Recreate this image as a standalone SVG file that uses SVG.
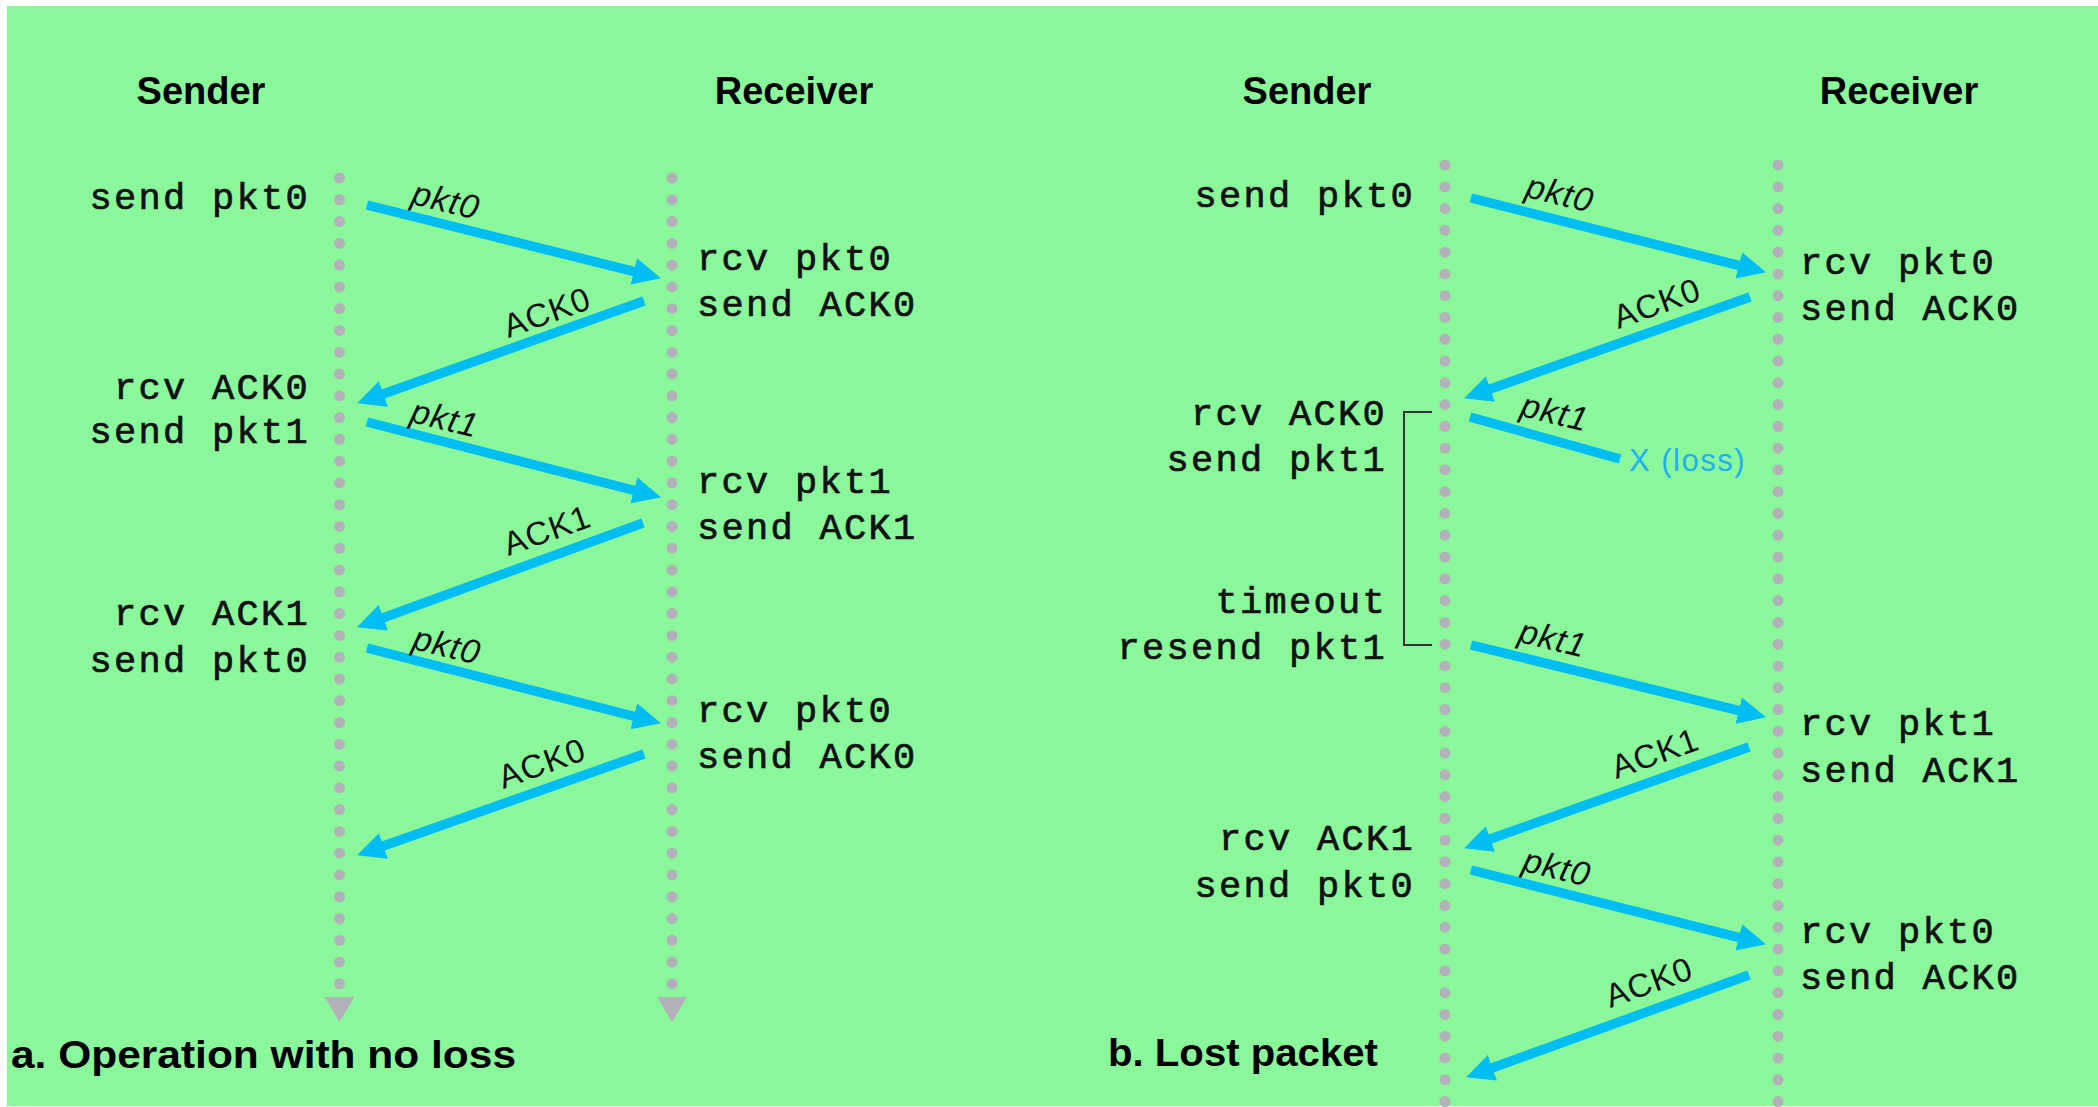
<svg xmlns="http://www.w3.org/2000/svg" width="2098" height="1107" viewBox="0 0 2098 1107">
  <style>
    .head { font-family: "Liberation Sans", Arial, sans-serif; font-weight: bold; font-size: 38px; fill: #000; text-anchor: middle; }
    .foot { font-family: "Liberation Sans", Arial, sans-serif; font-weight: bold; font-size: 39px; fill: #000; }
    .ev { font-family: "Liberation Mono", "Courier New", monospace; font-size: 37px; letter-spacing: 2.3px; fill: #111; stroke: #111; stroke-width: 0.7px; }
    .snd { text-anchor: end; }
    .lifeline { stroke: #b2b1b9; stroke-width: 11; stroke-linecap: round; stroke-dasharray: 0 21.78; fill: none; }
    .msg { stroke: #00bdf2; stroke-width: 9.5; fill: none; }
    .pkt { font-family: "Liberation Sans", Arial, sans-serif; font-style: italic; font-size: 34px; letter-spacing: 1px; fill: #111; text-anchor: middle; dominant-baseline: central; }
    .ack { font-family: "Liberation Sans", Arial, sans-serif; font-size: 33px; letter-spacing: 1px; fill: #111; text-anchor: middle; dominant-baseline: central; }
    .loss { font-family: "Liberation Sans", Arial, sans-serif; font-size: 31px; letter-spacing: 1.5px; fill: #1fb0ee; }
  </style>
  <defs>
    <marker id="head" viewBox="0 -14 28 28" markerUnits="userSpaceOnUse" markerWidth="28" markerHeight="28" refX="13" refY="0" orient="auto">
      <path d="M0,-13.5 L28,0 L0,13.5 z" fill="#00bdf2"/>
    </marker>
  </defs>

  <!-- page -->
  <rect x="0" y="0" width="2098" height="1107" fill="#ffffff"/>
  <rect x="7" y="6" width="2091" height="1100" fill="#8af79b"/>

  <!-- lifelines -->
  <g id="lifelines">
    <line class="lifeline" x1="339.5" y1="178" x2="339.5" y2="985"/>
    <line class="lifeline" x1="672" y1="178" x2="672" y2="985"/>
    <polygon points="324.5,997 354.5,997 339.5,1022" fill="#b2b1b9"/>
    <polygon points="657,997 687,997 672,1022" fill="#b2b1b9"/>
    <line class="lifeline" x1="1445" y1="165" x2="1445" y2="1110"/>
    <line class="lifeline" x1="1778" y1="165" x2="1778" y2="1110"/>
  </g>

  <!-- panel a: operation with no loss -->
  <g id="a-sender-head"><text class="head" x="201" y="104">Sender</text></g>
  <g id="a-receiver-head"><text class="head" x="794" y="104">Receiver</text></g>
  <g id="a-sender-events">
    <text class="ev snd" x="310" y="209">send pkt0</text>
    <text class="ev snd" x="310" y="399">rcv ACK0</text>
    <text class="ev snd" x="310" y="443">send pkt1</text>
    <text class="ev snd" x="310" y="625">rcv ACK1</text>
    <text class="ev snd" x="310" y="672">send pkt0</text>
  </g>
  <g id="a-receiver-events">
    <text class="ev" x="697" y="270">rcv pkt0</text>
    <text class="ev" x="697" y="316">send ACK0</text>
    <text class="ev" x="697" y="493">rcv pkt1</text>
    <text class="ev" x="697" y="539">send ACK1</text>
    <text class="ev" x="697" y="722">rcv pkt0</text>
    <text class="ev" x="697" y="768">send ACK0</text>
  </g>
  <g id="a-caption"><text class="foot" x="11" y="1068" textLength="505" lengthAdjust="spacingAndGlyphs">a. Operation with no loss</text></g>

  <!-- panel b: lost packet -->
  <g id="b-sender-head"><text class="head" x="1307" y="104">Sender</text></g>
  <g id="b-receiver-head"><text class="head" x="1899" y="104">Receiver</text></g>
  <g id="b-sender-events">
    <text class="ev snd" x="1415" y="207">send pkt0</text>
    <text class="ev snd" x="1387" y="425">rcv ACK0</text>
    <text class="ev snd" x="1387" y="471">send pkt1</text>
    <text class="ev snd" x="1387" y="613">timeout</text>
    <text class="ev snd" x="1387" y="659">resend pkt1</text>
    <text class="ev snd" x="1415" y="850">rcv ACK1</text>
    <text class="ev snd" x="1415" y="897">send pkt0</text>
  </g>
  <g id="b-timer">
    <path d="M1432,412 H1404 V645 H1432" fill="none" stroke="#333333" stroke-width="2"/>
  </g>
  <g id="b-receiver-events">
    <text class="ev" x="1800" y="274">rcv pkt0</text>
    <text class="ev" x="1800" y="320">send ACK0</text>
    <text class="ev" x="1800" y="735">rcv pkt1</text>
    <text class="ev" x="1800" y="782">send ACK1</text>
    <text class="ev" x="1800" y="943">rcv pkt0</text>
    <text class="ev" x="1800" y="989">send ACK0</text>
  </g>
  <g id="b-caption"><text class="foot" x="1108" y="1066" textLength="270" lengthAdjust="spacingAndGlyphs">b. Lost packet</text></g>

  <!-- messages -->
  <g id="connectors">
    <line class="msg" x1="367" y1="205" x2="646.4" y2="274.6" marker-end="url(#head)"/>
    <line class="msg" x1="644" y1="301" x2="371.2" y2="398.3" marker-end="url(#head)"/>
    <line class="msg" x1="367" y1="422" x2="646.4" y2="493.5" marker-end="url(#head)"/>
    <line class="msg" x1="643" y1="523" x2="371.1" y2="622.2" marker-end="url(#head)"/>
    <line class="msg" x1="367" y1="648" x2="646.4" y2="719.5" marker-end="url(#head)"/>
    <line class="msg" x1="644" y1="754" x2="371.2" y2="850.3" marker-end="url(#head)"/>

    <line class="msg" x1="1471" y1="198" x2="1751.4" y2="268.6" marker-end="url(#head)"/>
    <line class="msg" x1="1750" y1="297" x2="1478.2" y2="393.3" marker-end="url(#head)"/>
    <line class="msg" x1="1470" y1="417" x2="1620" y2="459"/>
    <line class="msg" x1="1471" y1="645" x2="1751.4" y2="713.7" marker-end="url(#head)"/>
    <line class="msg" x1="1749" y1="747" x2="1478.2" y2="843.3" marker-end="url(#head)"/>
    <line class="msg" x1="1471" y1="870" x2="1751.4" y2="940.6" marker-end="url(#head)"/>
    <line class="msg" x1="1749" y1="975" x2="1480.2" y2="1072.2" marker-end="url(#head)"/>

    <!-- message labels -->
    <text class="pkt" transform="translate(446,200) rotate(14)">pkt0</text>
    <text class="ack" transform="translate(547,312) rotate(-19.6)">ACK0</text>
    <text class="pkt" transform="translate(445,418) rotate(14)">pkt1</text>
    <text class="ack" transform="translate(547,530) rotate(-19.6)">ACK1</text>
    <text class="pkt" transform="translate(447,645) rotate(14)">pkt0</text>
    <text class="ack" transform="translate(542,763) rotate(-19.6)">ACK0</text>

    <text class="pkt" transform="translate(1560,193) rotate(14)">pkt0</text>
    <text class="ack" transform="translate(1657,303) rotate(-19.6)">ACK0</text>
    <text class="pkt" transform="translate(1555,412) rotate(14)">pkt1</text>
    <text class="loss" x="1629" y="471">X (loss)</text>
    <text class="pkt" transform="translate(1553,638) rotate(14)">pkt1</text>
    <text class="ack" transform="translate(1655,753) rotate(-19.6)">ACK1</text>
    <text class="pkt" transform="translate(1557,867) rotate(14)">pkt0</text>
    <text class="ack" transform="translate(1649,982) rotate(-19.6)">ACK0</text>
  </g>
</svg>
